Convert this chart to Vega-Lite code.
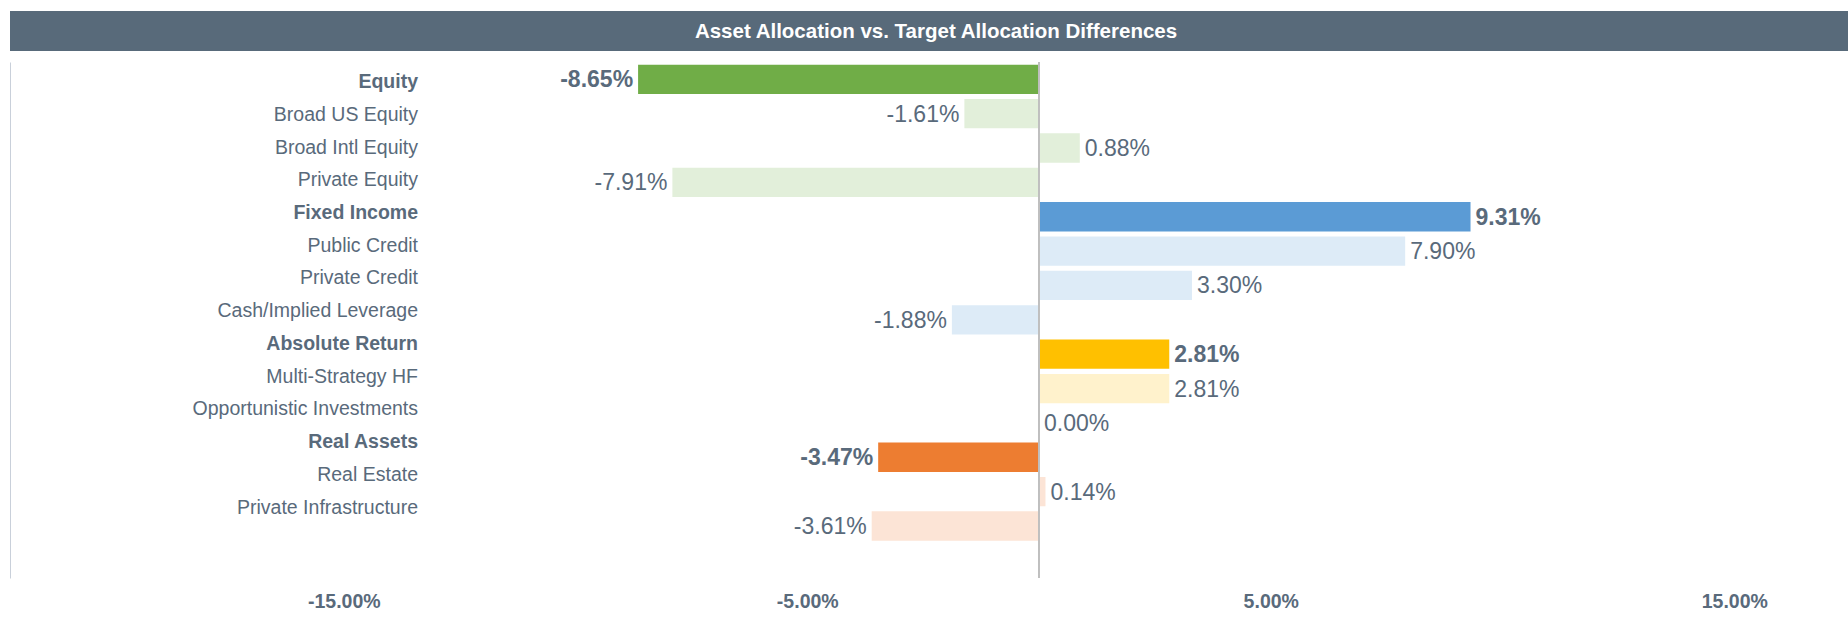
{
  "$schema": "https://vega.github.io/schema/vega-lite/v6.json",
  "padding": {"left": 10, "top": 11, "right": 0, "bottom": 0},
  "background": "white",
  "config": {
    "view": {"stroke": null},
    "font": "Liberation Sans",
    "axis": {"labelFont": "Liberation Sans"},
    "locale": {"number": {"decimal": ".", "thousands": ",", "grouping": [3], "currency": ["$", ""], "minus": "-"}}
  },
  "datasets": {
    "alloc": [
      {"cat": "Equity", "level": "group", "v": -0.0865},
      {"cat": "Broad US Equity", "level": "sub", "v": -0.0161},
      {"cat": "Broad Intl Equity", "level": "sub", "v": 0.0088},
      {"cat": "Private Equity", "level": "sub", "v": -0.0791},
      {"cat": "Fixed Income", "level": "group", "v": 0.0931},
      {"cat": "Public Credit", "level": "sub", "v": 0.079},
      {"cat": "Private Credit", "level": "sub", "v": 0.033},
      {"cat": "Cash/Implied Leverage", "level": "sub", "v": -0.0188},
      {"cat": "Absolute Return", "level": "group", "v": 0.0281},
      {"cat": "Multi-Strategy HF", "level": "sub", "v": 0.0281},
      {"cat": "Opportunistic Investments", "level": "sub", "v": 0.0},
      {"cat": "Real Assets", "level": "group", "v": -0.0347},
      {"cat": "Real Estate", "level": "sub", "v": 0.0014},
      {"cat": "Private Infrastructure", "level": "sub", "v": -0.0361}
    ]
  },
  "spacing": 10,
  "vconcat": [
    {
      "width": 1852,
      "height": 40,
      "view": {"fill": "#586a7a", "stroke": null},
      "data": {"values": [{"t": "Asset Allocation vs. Target Allocation Differences"}]},
      "mark": {"type": "text", "color": "white", "fontWeight": "bold", "fontSize": 20.5, "font": "Liberation Sans", "dy": 1},
      "encoding": {"text": {"field": "t", "type": "nominal"}}
    },
    {
      "bounds": "flush",
      "spacing": 0,
      "hconcat": [
        {
          "width": 332,
          "height": 516,
          "data": {"name": "alloc"},
          "mark": {
            "type": "text",
            "fontSize": 19.5,
            "color": "#596a7b",
            "align": "right",
            "baseline": "middle",
            "dx": 76,
            "dy": 1,
            "fontWeight": {"expr": "datum.level == 'group' ? 'bold' : 'normal'"}
          },
          "encoding": {
            "y": {
              "field": "cat", "type": "nominal", "sort": null,
              "scale": {"type": "band", "paddingInner": 0, "paddingOuter": 0.8825, "align": 0.047},
              "axis": {"orient": "left", "labels": false, "ticks": false, "title": null, "domain": true, "domainColor": "#c9d0da", "domainWidth": 1, "grid": false}
            },
            "x": {"value": "width"},
            "text": {"field": "cat", "type": "nominal"}
          }
        },
        {
          "width": 1506,
          "height": 516,
          "data": {"name": "alloc"},
          "layer": [
            {
              "mark": {"type": "bar"},
              "encoding": {
                "y": {
                  "field": "cat", "type": "nominal", "sort": null,
                  "scale": {"type": "band", "paddingInner": 0.147, "paddingOuter": 0.582, "align": 0.066},
                  "axis": null
                },
                "x": {
                  "field": "v", "type": "quantitative",
                  "scale": {"domain": [-0.15038, 0.17454], "nice": false, "zero": false},
                  "axis": {
                    "values": [-0.15, -0.05, 0.05, 0.15],
                    "format": ".2%",
                    "labelFontWeight": "bold",
                    "labelFontSize": 19.5,
                    "labelColor": "#596a7b",
                    "labelPadding": 14,
                    "labelFlush": false,
                    "ticks": false,
                    "domain": false,
                    "grid": false,
                    "title": null
                  }
                },
                "color": {
                  "field": "cat", "type": "nominal", "legend": null,
                  "scale": {
                    "domain": ["Equity", "Broad US Equity", "Broad Intl Equity", "Private Equity", "Fixed Income", "Public Credit", "Private Credit", "Cash/Implied Leverage", "Absolute Return", "Multi-Strategy HF", "Opportunistic Investments", "Real Assets", "Real Estate", "Private Infrastructure"],
                    "range": ["#70ad47", "#e2efda", "#e2efda", "#e2efda", "#5b9bd5", "#ddebf7", "#ddebf7", "#ddebf7", "#ffc000", "#fff2cc", "#fff2cc", "#ed7d31", "#fce4d6", "#fce4d6"]
                  }
                }
              }
            },
            {
              "mark": {
                "type": "text",
                "fontSize": 23,
                "color": "#596a7b",
                "baseline": "middle",
                "dy": 1,
                "align": {"expr": "datum.v < 0 ? 'right' : 'left'"},
                "dx": {"expr": "datum.v < 0 ? -5 : 5"},
                "fontWeight": {"expr": "datum.level == 'group' ? 'bold' : 'normal'"}
              },
              "encoding": {
                "y": {"field": "cat", "type": "nominal", "sort": null},
                "x": {"field": "v", "type": "quantitative"},
                "text": {"field": "v", "type": "quantitative", "format": ".2%"}
              }
            },
            {
              "mark": {"type": "rule", "color": "#bfbfbf", "strokeWidth": 1},
              "encoding": {"x": {"datum": 0}}
            }
          ]
        }
      ]
    }
  ]
}
